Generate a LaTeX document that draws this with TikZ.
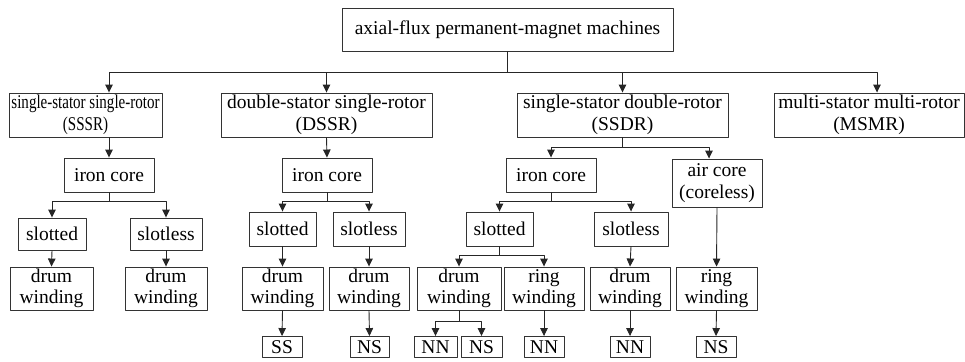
\documentclass[tikz,border=0pt]{standalone}
\usepackage{fontspec}
\setmainfont{Liberation Serif}
\usetikzlibrary{arrows.meta}
\begin{document}
\begin{tikzpicture}[font=\fontsize{19.5}{21.5}\selectfont, line join=round, >={Triangle[length=8pt,width=7.5pt]}, x=1pt, y=-1pt,
		box/.style={draw=black!80, line width=0.9pt, align=center, inner sep=0pt},
		link/.style={->, draw=black!85, line width=0.9pt}]
			\useasboundingbox (0,0) rectangle (965,361);
			\node[box, minimum width=153pt, minimum height=44pt] (sssr) at (85.5,115) {\scalebox{0.77}[1]{single-stator single-rotor}\\\scalebox{0.77}[1]{(SSSR)}};
			\foreach \n/\x/\y/\w/\h/\t in {afpm/507.5/29.5/331/43/{axial-flux permanent-magnet machines},
				dssr/326.5/115/211/44/{double-stator single-rotor\\(DSSR)}, ssdr/622.5/115/211/44/{single-stator double-rotor\\(SSDR)},
				msmr/869/115/190/44/{multi-stator multi-rotor\\(MSMR)},
				icA/109/175/90/34/{iron core}, icB/327/175/90/34/{iron core}, icC/551/175/90/34/{iron core}, air/717/183/90/48/{air core\\(coreless)},
				sltA/52/234/68/32/slotted, sllA/166/234/72/32/slotless, sltB/282.5/229/67/34/slotted, sllB/369/229/72/34/slotless,
				sltC/499.5/229/67/34/slotted, sllC/631/229/74/34/slotless,
				dwA1/51.5/288.5/83/43/{drum\\winding}, dwA2/166/288.5/82/43/{drum\\winding}, dwB1/282.5/288.5/81/43/{drum\\winding},
				dwB2/369/288.5/80/43/{drum\\winding}, dwC1/459/288.5/84/43/{drum\\winding}, rwC/544/288.5/80/43/{ring\\winding},
				dwC2/630/288.5/80/43/{drum\\winding}, rwD/716.5/288.5/81/43/{ring\\winding},
				ssB/282/347/40/21/SS, nsB/369.5/347/39/21/NS, nnC1/435.5/347/43/21/NN, nsC1/481.5/347/41/21/NS,
				nnC2/544/347/40/21/NN, nnC3/630/347/40/21/NN, nsD/716/347/40/21/NS}
				{\node[box, minimum width=\w pt, minimum height=\h pt] (\n) at (\x,\y) {\t};}
			\draw[link] (afpm.south) -- ++(0,21) -| (icA.north |- sssr.north);
			\draw[link] (afpm.south) -- ++(0,21) -| ([xshift=8pt]msmr.north);
			\draw[link] (ssdr.south) -- ++(0,10) -| ([xshift=-8pt]air.north);
			\draw[link] (icA.north |- sssr.south) -- (icA.north);
			\foreach \p/\c/\d in {afpm/dssr/21, afpm/ssdr/21, ssdr/icC/10, icA/sltA/9, icA/sllA/9, icB/sltB/9, icB/sllB/9,
				icC/sltC/9, icC/sllC/9, sltC/dwC1/9, sltC/rwC/9, dwC1/nnC1/11, dwC1/nsC1/11}
				{\draw[link] (\p.south) -- ++(0,\d) -| (\c.north);}
			\foreach \p/\c in {dssr/icB, sltA/dwA1, sllA/dwA2, sltB/dwB1, sllB/dwB2, dwB1/ssB, dwB2/nsB, rwC/nnC2, sllC/dwC2, dwC2/nnC3, air/rwD, rwD/nsD}
				{\draw[link] (\p.south) -- (\c.north);}
		\end{tikzpicture}
\end{document}
